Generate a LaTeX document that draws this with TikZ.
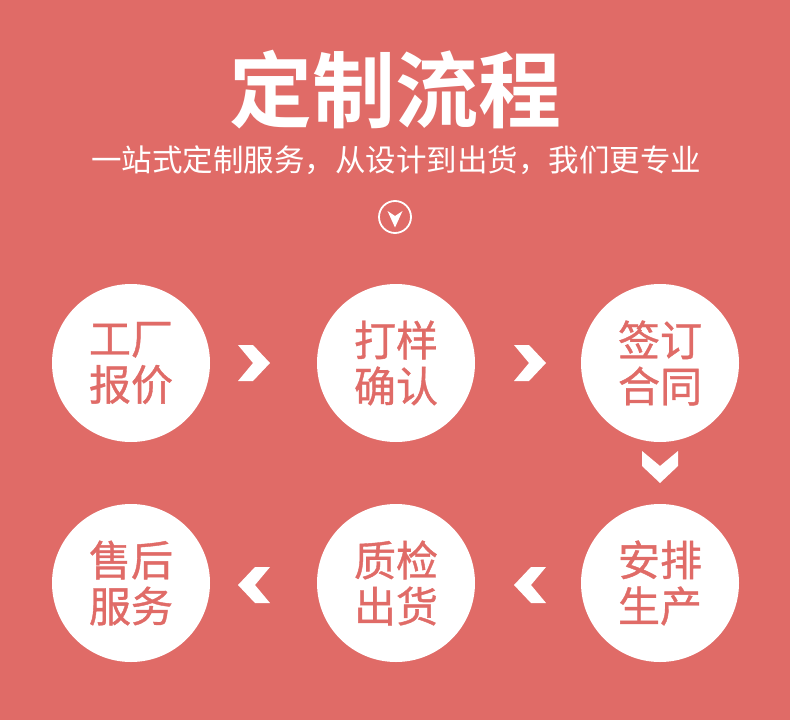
\documentclass[tikz,border=0pt]{standalone}
\usepackage{fontspec}
\newfontfamily\cjk{Noto Sans CJK SC}
\newfontfamily\cjkmed[FakeBold=0.9]{Noto Sans CJK SC}
\newfontfamily\cjkbold{Noto Sans CJK SC Bold}
\definecolor{bgred}{RGB}{224,107,103}
\begin{document}
\begin{tikzpicture}[x=1pt,y=-1pt,
  stepcircle/.style={circle,fill=white,minimum size=158pt,inner sep=0pt,
     text=bgred,align=center,font=\cjkmed\fontsize{42}{46}\selectfont},
  chevron/.style={fill=white}]
\fill[bgred] (0,0) rectangle (790,720);
\useasboundingbox (0,0) rectangle (790,720);
\node[text=white,font=\cjkbold\fontsize{83}{90}\selectfont] (title) at (395,90) {定制流程};
\node[text=white,font=\cjk\fontsize{30.5}{34}\selectfont] (sub) at (396,160) {一站式定制服务，从设计到出货，我们更专业};
\node[circle,draw=white,line width=1.8pt,minimum size=32pt,inner sep=0pt] (icon) at (395,217) {};
\fill[white] (387.5,211) -- (395,216) -- (402.5,211) -- (395,227.5) -- cycle;
% circles
\node[stepcircle] (s1) at (131,363) {工厂\\报价};
\node[stepcircle] (s2) at (396,363) {打样\\确认};
\node[stepcircle] (s3) at (660,363) {签订\\合同};
\node[stepcircle] (s4) at (660,583) {安排\\生产};
\node[stepcircle] (s5) at (396,583) {质检\\出货};
\node[stepcircle] (s6) at (131,583) {售后\\服务};
% chevrons
\foreach \cx/\cy/\ang in {254/363/0, 530/363/0, 660/467/-90, 530/585/180, 254/585/180}{
  \fill[chevron,shift={(\cx,\cy)},rotate=\ang]
    (-16,-18) -- (-1,-18) -- (16,0) -- (-1,18) -- (-16,18) -- (-1,0) -- cycle;
}
\end{tikzpicture}
\end{document}
